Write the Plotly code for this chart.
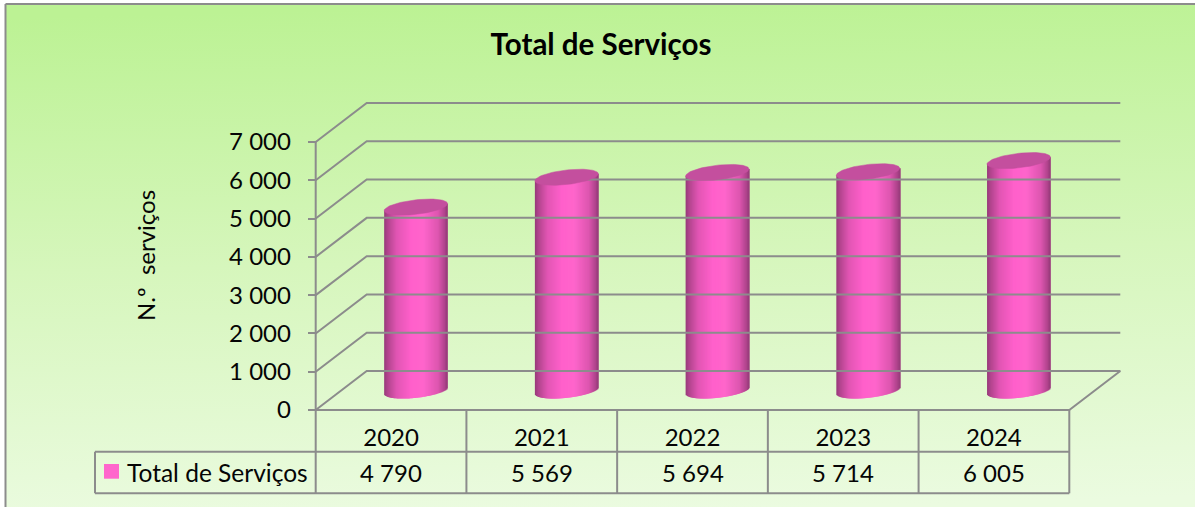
import base64
import numpy as np
import plotly.graph_objects as go

# ---- data ----
categories = ["2020", "2021", "2022", "2023", "2024"]
values = [4790, 5569, 5694, 5714, 6005]
value_labels = ["4 790", "5 569", "5 694", "5 714", "6 005"]
series_name = "Total de Serviços"
y_ticks = [0, 1000, 2000, 3000, 4000, 5000, 6000, 7000]

# ---- style / geometry ----
W, H = 1195, 507
X0, X1 = 315.7, 1069.3      # front plane, pixels
Y0, Y7 = 410.0, 142.0
DEPTH_X, DEPTH_Y = 51, 39   # pixels
PAD = 4                     # pixels kept round the frame so its lines are not cut
FONT = "Lato"
GREY = "#8C8C8C"
INK = "#050505"
PINK = "#FF66CC"
CAP = "#C44F9E"

px_x = 5.0 / (X1 - X0)              # category units per pixel
px_y = 7000.0 / (Y0 - Y7)           # value units per pixel
DX, DY = DEPTH_X * px_x, DEPTH_Y * px_y
A_PX, B_PX, TILT = 31.7, 7.3, 0.11  # cylinder ellipse


def paper_x(p):
    return p / W


def paper_y(p):
    return 1 - p / H


fig = go.Figure()

# wall and floor lines
xl, xr = -0.5, 4.5
for t in y_ticks:
    xs = [xl, xl + DX, xr + DX]
    ys = [t, t + DY, t + DY]
    if t == 0:
        xs += [xr, xl]
        ys += [0, 0]
    fig.add_trace(go.Scatter(x=xs, y=ys, mode="lines", showlegend=False,
                             hoverinfo="skip", line=dict(color=GREY, width=2)))
fig.add_trace(go.Scatter(x=[xl, xl], y=[y_ticks[0], y_ticks[-1]], mode="lines", showlegend=False,
                         hoverinfo="skip", line=dict(color=GREY, width=2)))

# cylinder shading stops: position across the body (0-1) -> rgb
stops_pos = [0.0, 0.05, 0.2, 0.42, 0.62, 0.85, 0.97, 1.0]
stops_rgb = np.array([[150, 58, 122], [176, 68, 140], [226, 86, 180], [255, 96, 203],
                      [255, 102, 204], [222, 86, 176], [170, 66, 136], [150, 58, 122]])
N = 63
u = (np.arange(N) + 0.5) / N * 2 - 1
shade = [("rgb(%d,%d,%d)" % tuple(np.interp((k + 1) / 2, stops_pos, stops_rgb[:, c]) for c in range(3))) for k in u]
step = 2 * A_PX * px_x / N
widths = np.full(N, 2 * step)
widths[-1] = step
arc = np.sqrt(1 - u ** 2)

for i, (cat, v) in enumerate(zip(categories, values)):
    cx = i + DX / 2 - 0.7 * px_x
    c0 = DY / 2
    base = c0 + (TILT * A_PX * u - B_PX * arc) * px_y
    top = c0 + v + TILT * A_PX * u * px_y
    left = cx + u * A_PX * px_x - step / 2
    fig.add_trace(go.Bar(x=left + widths / 2, y=top - base, base=base, width=widths,
                         marker=dict(color=shade, line=dict(width=0)), cliponaxis=False,
                         showlegend=False, name=cat, hoverinfo="skip"))
    t = np.linspace(0, 2 * np.pi, 90)
    fig.add_trace(go.Scatter(
        x=cx + A_PX * np.cos(t) * px_x,
        y=c0 + v + (TILT * A_PX * np.cos(t) + B_PX * np.sin(t)) * px_y,
        mode="lines", fill="toself", fillcolor=CAP,
        line=dict(color=CAP, width=0.5), showlegend=False, hoverinfo="skip"))

# background gradient
svg = f"""<svg xmlns="http://www.w3.org/2000/svg" width="{W}" height="{H}">
<defs><linearGradient id="g" x1="0.47" y1="0" x2="0.53" y2="1">
<stop offset="0" stop-color="#BCF294"/><stop offset="0.5" stop-color="#D6F6BC"/>
<stop offset="1" stop-color="#EBFBE0"/></linearGradient></defs>
<rect x="5" y="4" width="{W}" height="{H}" fill="url(#g)"/></svg>"""
bg = "data:image/svg+xml;base64," + base64.b64encode(svg.encode()).decode()

line = dict(color=GREY, width=2)
shapes = [
    dict(type="line", xref="paper", yref="paper", x0=paper_x(5.5), x1=1, y0=paper_y(4), y1=paper_y(4), line=line),
    dict(type="line", xref="paper", yref="paper", x0=paper_x(5.5), x1=paper_x(5.5), y0=paper_y(4), y1=0, line=line),
    dict(type="line", xref="paper", yref="paper", x0=paper_x(95), x1=paper_x(X1), y0=paper_y(451.7), y1=paper_y(451.7), line=line),
    dict(type="line", xref="paper", yref="paper", x0=paper_x(95), x1=paper_x(X1), y0=paper_y(493.3), y1=paper_y(493.3), line=line),
    dict(type="line", xref="paper", yref="paper", x0=paper_x(95), x1=paper_x(95), y0=paper_y(451.7), y1=paper_y(493.3), line=line),
    dict(type="rect", xref="paper", yref="paper", x0=paper_x(104), x1=paper_x(119), y0=paper_y(464), y1=paper_y(478.7),
         fillcolor=PINK, line=dict(width=0)),
]
for k in range(len(categories) + 1):
    shapes.append(dict(type="line", xref="x", yref="paper", x0=k - 0.5, x1=k - 0.5,
                       y0=paper_y(Y0), y1=paper_y(493.3), line=line))

annotations = [
    dict(text=series_name, xref="paper", yref="paper", x=paper_x(124.5), y=paper_y(472), xanchor="left", yanchor="middle",
         showarrow=False, font=dict(family=FONT, size=24.5, color=INK)),
    dict(text="N.º\u00a0\u00a0serviços", xref="paper", yref="paper", x=paper_x(145), y=paper_y(256), xanchor="center",
         yanchor="middle", textangle=-90, showarrow=False, font=dict(family=FONT, size=24, color=INK)),
]
for i, lab in enumerate(value_labels):
    annotations.append(dict(text=lab, xref="x", yref="paper", x=i, y=paper_y(472), xanchor="center", yanchor="middle",
                            showarrow=False, font=dict(family=FONT, size=24, color=INK)))

fig.update_layout(
    width=W, height=H, margin=dict(l=0, r=0, t=0, b=0, autoexpand=False), autosize=False,
    paper_bgcolor="white", plot_bgcolor="rgba(0,0,0,0)", barmode="overlay", showlegend=False,
    separators=", ",
    title=dict(text="<b>" + series_name + "</b>", x=601 / W, xanchor="center", y=1 - 45 / H, yanchor="middle",
               font=dict(family=FONT, size=29.5, color="#000000")),
    images=[dict(source=bg, xref="paper", yref="paper", x=0, y=1, sizex=1, sizey=1, sizing="stretch",
                 xanchor="left", yanchor="top", layer="below")],
    shapes=shapes, annotations=annotations,
    xaxis=dict(domain=[paper_x(X0 - PAD), paper_x(X1 + DEPTH_X + PAD)],
               range=[xl - PAD * px_x, xr + DX + PAD * px_x],
               anchor="free", position=paper_y(Y0),
               tickvals=list(range(len(categories))),
               ticktext=categories, ticks="", showgrid=False, zeroline=False, showline=False,
               ticklabelstandoff=11, tickfont=dict(family=FONT, size=24, color=INK)),
    yaxis=dict(domain=[paper_y(Y0 + PAD), paper_y(Y7 - DEPTH_Y - PAD)],
               range=[-PAD * px_y, 7000 + DY + PAD * px_y],
               anchor="free", position=paper_x(X0),
               tickvals=y_ticks, tickformat=",d", ticks="outside",
               ticklen=8, tickwidth=2, tickcolor=GREY, showgrid=False, zeroline=False, showline=False,
               ticklabelstandoff=12, tickfont=dict(family=FONT, size=24, color=INK)),
)

fig.write_html("out.html", post_script="document.body.style.margin='0';document.documentElement.style.overflow='hidden';",
               config={"displayModeBar": False})
